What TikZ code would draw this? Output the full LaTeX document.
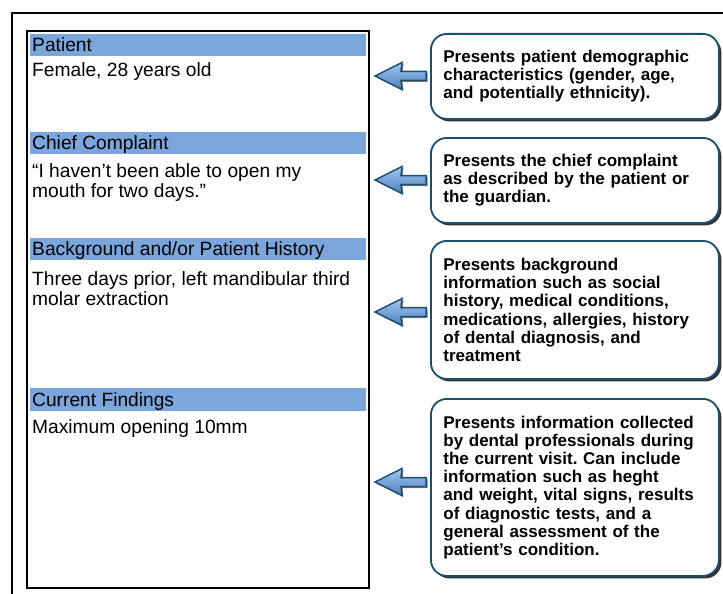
\documentclass[tikz,border=0pt]{standalone}
\usepackage{fontspec}
\setmainfont{Liberation Sans}
\frenchspacing
\usetikzlibrary{shadows}
\definecolor{hdrblue}{RGB}{122,166,220}
\definecolor{boxedge}{RGB}{28,78,112}
\definecolor{arrlight}{RGB}{165,200,238}
\definecolor{arrdark}{RGB}{74,128,194}
\begin{document}
\begin{tikzpicture}[x=1pt,y=-1pt,
  hdr/.style={fill=hdrblue, draw=none},
  formtext/.style={anchor=base west, inner sep=0, font=\fontsize{19.2}{21}\selectfont},
  notebox/.style={draw=boxedge, line width=1.8pt, rounded corners=16pt, fill=white,
    drop shadow={shadow xshift=2.5pt, shadow yshift=-2.5pt, opacity=0.8, fill=black},
    align=left, anchor=north west, text width=263pt, inner xsep=12.5pt, inner ysep=0pt,
    font=\bfseries\fontsize{17}{18.2}\selectfont},
  blockarrow/.style={draw=boxedge, line width=1.5pt, line join=miter,
    top color=arrlight, bottom color=arrdark,
    drop shadow={shadow xshift=1.5pt, shadow yshift=-1.5pt, opacity=0.5, fill=black}}
]
\useasboundingbox (0,0) rectangle (723,594);
% outer frame (clipped at right and bottom)
\draw[line width=1.6pt] (723,13) -- (12,13) -- (12,594);
% inner form box
\node[draw, line width=1.6pt, minimum width=342pt, minimum height=557pt, inner sep=0, anchor=north west] (form) at (26,30) {};
% header bars
\fill[hdr] (30,34) rectangle (366,56);
\fill[hdr] (30,132) rectangle (366,154);
\fill[hdr] (30,238) rectangle (366,260);
\fill[hdr] (30,388) rectangle (366,411);
\node[formtext] (h1) at (32,52) {Patient};
\node[formtext] (b1) at (32,77) {Female, 28 years old};
\node[formtext] (h2) at (32,149) {Chief Complaint};
\node[formtext] (b2a) at (32,177) {“I haven’t been able to open my};
\node[formtext] (b2b) at (32,197) {mouth for two days.”};
\node[formtext] (h3) at (32,255) {Background and/or Patient History};
\node[formtext] (b3a) at (32,285) {Three days prior, left mandibular third};
\node[formtext] (b3b) at (32,305) {molar extraction};
\node[formtext] (h4) at (32,406) {Current Findings};
\node[formtext] (b4) at (32,433) {Maximum opening 10mm};
% right note boxes
\node[notebox, minimum height=85pt] (n1) at (430,33)
  {Presents patient demographic\\characteristics (gender, age,\\and potentially ethnicity).};
\node[notebox, minimum height=85pt] (n2) at (430,137)
  {Presents the chief complaint\\as described by the patient or\\the guardian.};
\node[notebox, minimum height=138pt] (n3) at (430,240)
  {Presents background\\information such as social\\history, medical conditions,\\medications, allergies, history\\of dental diagnosis, and\\treatment};
\node[notebox, minimum height=177pt] (n4) at (430,398)
  {Presents information collected\\by dental professionals during\\the current visit. Can include\\information such as heght\\and weight, vital signs, results\\of diagnostic tests, and a\\general assessment of the\\patient’s condition.};
% block arrows
\foreach \c/\nm in {76/a1,180/a2,312/a3,482/a4}{
  \coordinate (\nm) at (375,\c);
  \path[blockarrow] (375,\c) -- (402,\c-13.5) -- (401,\c-4.5) -- (426,\c-4.5)
     -- (426,\c+4.5) -- (401,\c+4.5) -- (402,\c+13.5) -- cycle;
}
\end{tikzpicture}
\end{document}
